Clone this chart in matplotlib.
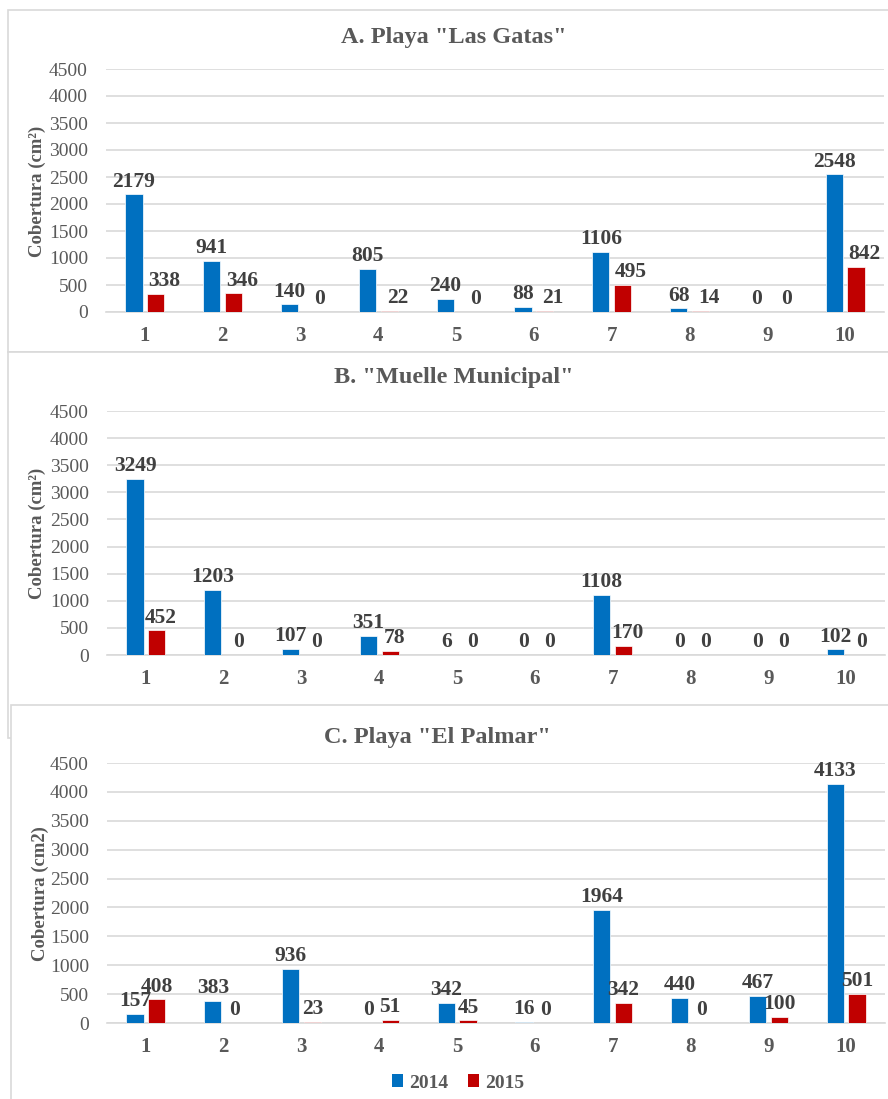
import matplotlib
matplotlib.use("Agg")
import matplotlib.pyplot as plt
from matplotlib.patches import Rectangle, Patch
import numpy as np

plt.rcParams['font.family'] = ['Liberation Serif', 'DejaVu Serif']

# data
categories = ['1', '2', '3', '4', '5', '6', '7', '8', '9', '10']
years = ['2014', '2015']

gatas_2014 = [2179, 941, 140, 805, 240, 88, 1106, 68, 0, 2548]
gatas_2015 = [338, 346, 0, 22, 0, 21, 495, 14, 0, 842]

muelle_2014 = [3249, 1203, 107, 351, 6, 0, 1108, 0, 0, 102]
muelle_2015 = [452, 0, 0, 78, 0, 0, 170, 0, 0, 0]

palmar_2014 = [157, 383, 936, 0, 342, 16, 1964, 440, 467, 4133]
palmar_2015 = [408, 0, 23, 51, 45, 0, 342, 0, 100, 501]

titles = ['A. Playa "Las Gatas"', 'B. "Muelle Municipal"', 'C. Playa "El Palmar"']
ylabels = ['Cobertura (cm\u00b2)', 'Cobertura (cm\u00b2)', 'Cobertura (cm2)']

BLUE = '#0070C0'
RED = '#C00000'
GRID = '#D9D9D9'
TXT = '#595959'
LBL = '#404040'

W, H = 888, 1099
fig = plt.figure(figsize=(W / 100, H / 100), dpi=100)


def px_rect(x0, y0, x1, y1):
    """pixel box (top-left origin) -> figure fraction rect"""
    return [x0 / W, 1 - y1 / H, (x1 - x0) / W, (y1 - y0) / H]


def frame(x0, y0, x1, y1, z):
    r = Rectangle((x0 / W, 1 - y1 / H), (x1 - x0) / W, (y1 - y0) / H,
                  transform=fig.transFigure, facecolor='white',
                  edgecolor=GRID, linewidth=1.2, zorder=z)
    fig.patches.append(r)


# panel borders (C drawn on top of B, like the pasted original)
frame(8, 10, 892, 352, 0)
frame(8, 352, 892, 738, 0.1)
frame(11, 705, 892, 1104, 0.2)


def panel(ax, v14, v15, title, ylabel, title_xy, ylab_xy, red_shift=0):
    x = np.arange(len(categories))
    w = 0.22
    off = 0.14
    b1 = ax.bar(x - off, v14, w, color=BLUE, edgecolor='white', linewidth=0.5, zorder=3)
    b2 = ax.bar(x + off, v15, w, color=RED, edgecolor='white', linewidth=0.5, zorder=3)
    for bars, vals, dx in ((b1, v14, 0), (b2, v15, red_shift)):
        for rect, v in zip(bars, vals):
            ax.annotate(str(v), (rect.get_x() + rect.get_width() / 2, v),
                        xytext=(dx, 2), textcoords='offset points',
                        ha='center', va='bottom', fontsize=15.5,
                        fontweight='bold', color=LBL, zorder=4)
    ax.set_ylim(0, 4500)
    ax.set_xlim(-0.5, len(categories) - 0.5)
    ax.set_yticks(np.arange(0, 4501, 500))
    ax.set_xticks(x)
    ax.set_xticklabels(categories, fontweight='bold')
    ax.tick_params(axis='y', length=0, labelsize=14, labelcolor=TXT, pad=13)
    ax.tick_params(axis='x', length=0, labelsize=15, labelcolor=TXT, pad=10)
    ax.grid(axis='y', color=GRID, linewidth=1.2, zorder=0)
    for s in ['top', 'right', 'left']:
        ax.spines[s].set_visible(False)
    ax.spines['bottom'].set_color(GRID)
    ax.spines['bottom'].set_linewidth(1.2)
    ax.patch.set_alpha(0)
    fig.text(title_xy[0] / W, 1 - title_xy[1] / H, title, ha='center', va='center',
             fontsize=17.5, fontweight='bold', color=TXT)
    fig.text(ylab_xy[0] / W, 1 - ylab_xy[1] / H, ylabel, ha='center', va='center',
             rotation=90, fontsize=13.5, fontweight='bold', color=TXT)


ax_a = fig.add_axes(px_rect(106, 69, 884, 312), zorder=1)
panel(ax_a, gatas_2014, gatas_2015, titles[0], ylabels[0], (454, 37), (37, 191), red_shift=6)

ax_b = fig.add_axes(px_rect(107, 411, 885, 655), zorder=1)
panel(ax_b, muelle_2014, muelle_2015, titles[1], ylabels[1], (454, 378), (37, 533), red_shift=3)

ax_c = fig.add_axes(px_rect(107, 763, 885, 1023), zorder=1)
panel(ax_c, palmar_2014, palmar_2015, titles[2], ylabels[2], (437, 737), (40, 894))

handles = [Patch(facecolor=BLUE, label=years[0]), Patch(facecolor=RED, label=years[1])]
fig.legend(handles=handles, loc='center', bbox_to_anchor=(458 / W, 1 - 1083 / H),
           ncol=2, frameon=False, handlelength=0.6, handleheight=0.6,
           handletextpad=0.3, columnspacing=1.0,
           prop={'family': 'Liberation Serif', 'weight': 'bold', 'size': 14},
           labelcolor=TXT)

fig.savefig('out.png', dpi=100)
